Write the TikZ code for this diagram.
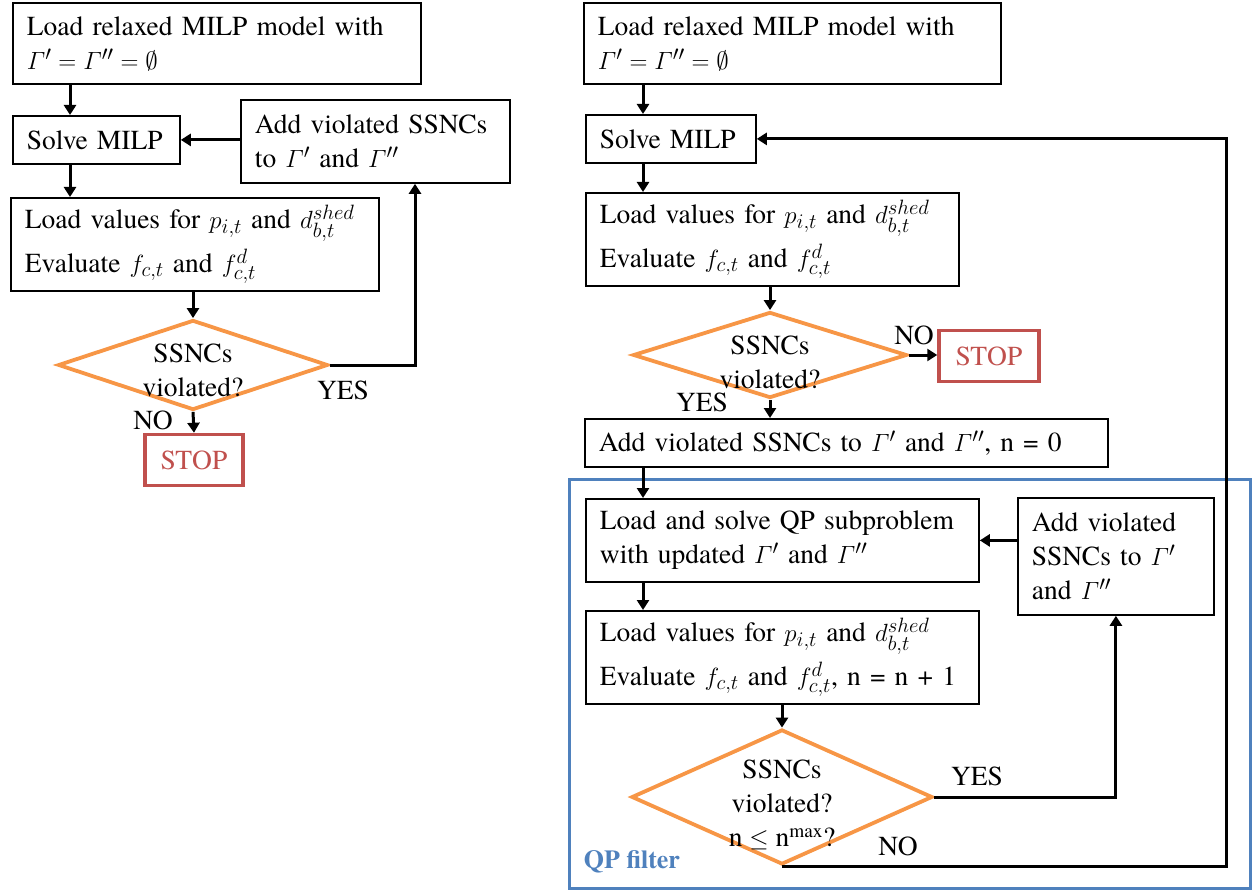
\documentclass[tikz,border=0pt]{standalone}
\usepackage{amsmath}
\usepackage{fontspec}
\setmainfont{texgyretermes}[Extension=.otf, UprightFont=*-regular, BoldFont=*-bold, ItalicFont=*-italic, BoldItalicFont=*-bolditalic]
\usetikzlibrary{shapes.geometric,arrows.meta,calc}
\definecolor{dorange}{HTML}{F79646}
\definecolor{stopred}{HTML}{C0504D}
\definecolor{qpblue}{HTML}{4F81BD}
\newcommand{\Gp}{$\varGamma'$}
\newcommand{\Gpp}{$\varGamma''$}
\begin{document}
\begin{tikzpicture}[x=1pt,y=-1pt,
  every node/.style={font=\fontsize{27.5}{34}\selectfont},
  box/.style={draw, line width=1.8pt, anchor=north west, align=left, inner xsep=14pt, inner ysep=0pt},
  arr/.style={line width=3pt, -{Triangle[length=10pt,width=12pt]}},
  dia/.style={draw=dorange, line width=3.8pt, diamond, aspect=3, inner sep=0pt},
  stopbox/.style={draw=stopred, line width=3.5pt, text=stopred, minimum width=98pt, minimum height=51pt, inner sep=0pt},
  lbl/.style={inner sep=0pt},
  dtext/.style={inner sep=0pt, align=center}
]
\useasboundingbox (0,0) rectangle (1252,890);

% ---------- left flowchart ----------
\node[box, text width=380pt, minimum height=81pt] (b1) at (12,2)
  {Load relaxed MILP model with\\ $\varGamma' = \varGamma'' = \emptyset$};
\node[box, text width=139pt, minimum height=48pt] (solve1) at (12,115) {Solve MILP};
\node[box, text width=241pt, minimum height=83pt] (add1) at (240,99)
  {Add violated SSNCs\\ to \Gp{} and \Gpp};
\node[box, text width=340pt, minimum height=93pt] (load1) at (10,197)
  {Load values for $p_{i,t}$ and $d_{b,t}^{shed}$\\[6pt] Evaluate $f_{c,t}$ and $f_{c,t}^{d}$};
\node[dia, minimum width=270pt, minimum height=90pt] (dia1) at (193,365) {};
\node[dtext] (dia1t) at (193,370) {SSNCs\\ violated?};
\node[stopbox] (stop1) at (194,460) {STOP};
\node[lbl] (yes1) at (343,390) {YES};
\node[lbl] (no1) at (153,420) {NO};

\coordinate (xL) at (70,0);
\coordinate (xY) at (415,0);
\draw[arr] (b1.south -| xL) -- (solve1.north -| xL);
\draw[arr] (solve1.south -| xL) -- (load1.north -| xL);
\draw[arr] (add1.west |- solve1.east) -- (solve1.east);
\draw[arr] (load1.south -| dia1.north) -- (dia1.north);
\draw[arr] (dia1.east) -| (add1.south -| xY);
\draw[arr] (dia1.south) -- (stop1.north);

% ---------- right flowchart ----------
\node[draw=qpblue, line width=2.8pt, anchor=north west, minimum width=681pt, minimum height=409pt, inner sep=0pt] (qpf) at (568,478) {};
\node[lbl, text=qpblue, font=\fontsize{26}{30}\selectfont\bfseries] (qplabel) at (632,862) {QP filter};

\node[box, text width=389pt, minimum height=81pt] (b2) at (583,2)
  {Load relaxed MILP model with\\ $\varGamma' = \varGamma'' = \emptyset$};
\node[box, text width=142pt, minimum height=48pt] (solve2) at (585,114) {Solve MILP};
\node[box, text width=345pt, minimum height=93pt] (load2) at (585,192)
  {Load values for $p_{i,t}$ and $d_{b,t}^{shed}$\\[6pt] Evaluate $f_{c,t}$ and $f_{c,t}^{d}$};
\node[dia, minimum width=274pt, minimum height=86pt] (dia2) at (770,355) {};
\node[dtext] (dia2t) at (770,362) {SSNCs\\ violated?};
\node[stopbox, minimum width=100pt] (stop2) at (989,356) {STOP};
\node[lbl] (no2) at (914,335) {NO};
\node[lbl] (yes2) at (702,402) {YES};
\node[box, text width=495pt, minimum height=48pt] (add2) at (584,418)
  {Add violated SSNCs to \Gp{} and \Gpp, n = 0};
\node[box, text width=365pt, minimum height=83pt] (qp1) at (585,498)
  {Load and solve QP subproblem\\ with updated \Gp{} and \Gpp};
\node[box, text width=168pt, minimum height=117pt] (addq) at (1017,497)
  {Add violated\\ SSNCs to \Gp\\ and \Gpp};
\node[box, text width=365pt, minimum height=93pt] (load3) at (585,610)
  {Load values for $p_{i,t}$ and $d_{b,t}^{shed}$\\[6pt] Evaluate $f_{c,t}$ and $f_{c,t}^{d}$, n = n + 1};
\node[dia, minimum width=301pt, minimum height=135pt] (dia3) at (782,797) {};
\node[dtext] (dia3t) at (782,805) {SSNCs\\ violated?\\ n $\leq$ n\textsuperscript{max}?};
\node[lbl] (yes3) at (977,776) {YES};
\node[lbl] (no3) at (898,846) {NO};

\coordinate (xR) at (643,0);
\coordinate (xFB) at (1226,0);
\draw[arr] (b2.south -| xR) -- (solve2.north -| xR);
\draw[arr] (solve2.south -| xR) -- (load2.north -| xR);
\draw[arr] (load2.south -| dia2.north) -- (dia2.north);
\draw[arr] (dia2.east) -- (dia2.east -| stop2.west);
\draw[arr] (dia2.south) -- (add2.north -| dia2.south);
\draw[arr] (add2.south -| xR) -- (qp1.north -| xR);
\draw[arr] (qp1.south -| xR) -- (load3.north -| xR);
\draw[arr] (addq.west |- qp1.east) -- (qp1.east);
\draw[arr] (load3.south -| dia3.north) -- (dia3.north);
\draw[arr] (dia3.east) -| (addq.south);
\draw[arr] (dia3.south) -| (xFB |- solve2.east) -- (solve2.east);
\end{tikzpicture}
\end{document}
